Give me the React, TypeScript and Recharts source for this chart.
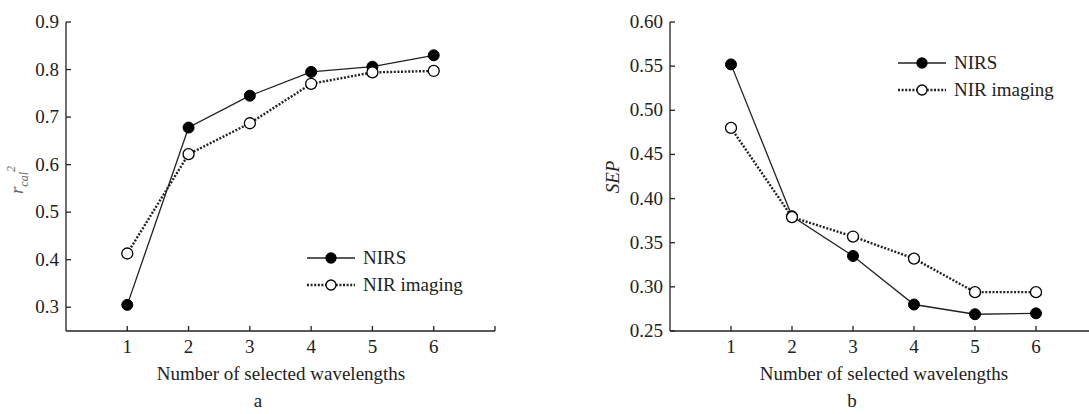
import React from "react";
import { LineChart, Line, XAxis, YAxis } from "recharts";

const wavelengths = [1, 2, 3, 4, 5, 6];
const r2Nirs = [0.305, 0.678, 0.745, 0.795, 0.806, 0.83];
const r2Imaging = [0.413, 0.622, 0.687, 0.77, 0.794, 0.797];
const sepNirs = [0.552, 0.38, 0.335, 0.28, 0.269, 0.27];
const sepImaging = [0.48, 0.379, 0.357, 0.332, 0.294, 0.294];

const xTicks = [0, 1, 2, 3, 4, 5, 6, 7];
const r2Ticks = [0.3, 0.4, 0.5, 0.6, 0.7, 0.8, 0.9];
const sepTicks = [0.25, 0.3, 0.35, 0.4, 0.45, 0.5, 0.55, 0.6];
const seriesNames = ["NIRS", "NIR imaging"];

const FONT = "'Times New Roman', 'Liberation Serif', 'DejaVu Serif', serif";
const INK = "#222";
const FS = 19;
const GAP = 6;
const TICK = 5;

const build = (a: number[], b: number[]) =>
  wavelengths.map((w, i) => ({ n: w, nirs: a[i], img: b[i] }));

const r2Data = build(r2Nirs, r2Imaging);
const sepData = build(sepNirs, sepImaging);

const YTick = (digits: number) => (props: any) => {
  const { x, y, payload } = props;
  const ax = x + GAP;
  return (
    <g>
      <line x1={ax} x2={ax + TICK} y1={y} y2={y} stroke={INK} strokeWidth={1.3} />
      <text x={x - 1} y={y} dy={6} textAnchor="end" fill={INK} fontSize={FS} style={{ fontFamily: FONT }}>
        {payload.value.toFixed(digits)}
      </text>
    </g>
  );
};

const XTick = (props: any) => {
  const { x, y, payload } = props;
  const ay = y - GAP;
  const v = payload.value;
  return (
    <g>
      {v > 0 && <line x1={x} x2={x} y1={ay} y2={ay - TICK} stroke={INK} strokeWidth={1.3} />}
      {v >= 1 && v <= 6 && (
        <text x={x} y={y} dy={16} textAnchor="middle" fill={INK} fontSize={FS} style={{ fontFamily: FONT }}>
          {v}
        </text>
      )}
    </g>
  );
};

const Swatch = ({ dotted }: { dotted: boolean }) => (
  <svg width={50} height={14} style={{ display: "block" }}>
    <line
      x1={1}
      x2={49}
      y1={7}
      y2={7}
      stroke={INK}
      strokeWidth={dotted ? 2.4 : 1.3}
      strokeDasharray={dotted ? "2 1.6" : undefined}
    />
    <circle cx={25} cy={7} r={5} fill={dotted ? "#fff" : "#000"} stroke="#000" strokeWidth={1.3} />
  </svg>
);

const LegendBox = ({ left, top }: { left: number; top: number }) => (
  <div
    style={{
      position: "absolute",
      left,
      top,
      fontSize: FS,
      color: INK,
      lineHeight: "27px",
    }}
  >
    {seriesNames.map((name, i) => (
      <div key={name} style={{ display: "flex", alignItems: "center", gap: 7 }}>
        <Swatch dotted={i === 1} /> {name}
      </div>
    ))}
  </div>
);

const Panel = ({ data, domain, ticks, digits, yWidth, width, right }: any) => (
  <LineChart
    width={width}
    height={414}
    data={data}
    margin={{ top: 22, right, left: 0, bottom: 53 }}
  >
    <XAxis
      dataKey="n"
      type="number"
      domain={[0, 7]}
      ticks={xTicks}
      interval={0}
      height={30}
      tickSize={0}
      tickMargin={GAP}
      tick={XTick}
      axisLine={{ stroke: INK, strokeWidth: 1.3 }}
    />
    <YAxis
      type="number"
      domain={domain}
      ticks={ticks}
      interval={0}
      width={yWidth}
      tickSize={0}
      tickMargin={GAP}
      tick={YTick(digits)}
      axisLine={{ stroke: INK, strokeWidth: 1.3 }}
    />
    <Line
      dataKey="nirs"
      name={seriesNames[0]}
      stroke={INK}
      strokeWidth={1.3}
      dot={{ r: 5.5, fill: "#000", stroke: "#000", strokeWidth: 1 }}
      isAnimationActive={false}
    />
    <Line
      dataKey="img"
      name={seriesNames[1]}
      stroke={INK}
      strokeWidth={2.4}
      strokeDasharray="2 1.6"
      dot={{ r: 5.5, fill: "#fff", stroke: "#000", strokeWidth: 1.3, strokeDasharray: "" }}
      isAnimationActive={false}
    />
  </LineChart>
);

const centered = (left: number, top: number): React.CSSProperties => ({
  position: "absolute",
  left,
  top,
  transform: "translateX(-50%)",
  fontSize: FS,
  color: INK,
  whiteSpace: "nowrap",
});

export default function App() {
  return (
    <div
      style={{
        position: "absolute",
        left: 0,
        top: 0,
        width: 1089,
        height: 414,
        overflow: "hidden",
        background: "#fff",
        fontFamily: FONT,
      }}
    >
      <div style={{ position: "absolute", left: 0, top: 0 }}>
        <Panel data={r2Data} domain={[0.25, 0.9]} ticks={r2Ticks} digits={1} yWidth={66} width={540} right={45} />
      </div>
      <div style={{ position: "absolute", left: 600, top: 0 }}>
        <Panel data={sepData} domain={[0.25, 0.6]} ticks={sepTicks} digits={2} yWidth={70} width={510} right={13} />
      </div>
      <LegendBox left={306} top={244} />
      <LegendBox left={897} top={49} />
      <div
        style={{
          position: "absolute",
          left: 18,
          top: 180,
          transform: "translate(-50%, -50%) rotate(-90deg)",
          fontSize: FS,
          color: "#666",
          fontStyle: "italic",
          whiteSpace: "nowrap",
        }}
      >
        r<sub style={{ fontSize: 12 }}>cal</sub>
        <sup style={{ fontSize: 12 }}>2</sup>
      </div>
      <div
        style={{
          position: "absolute",
          left: 613,
          top: 177,
          transform: "translate(-50%, -50%) rotate(-90deg)",
          fontSize: FS,
          color: INK,
          fontStyle: "italic",
          whiteSpace: "nowrap",
        }}
      >
        SEP
      </div>
      <div style={centered(281, 363)}>Number of selected wavelengths</div>
      <div style={centered(884, 363)}>Number of selected wavelengths</div>
      <div style={centered(258, 390)}>a</div>
      <div style={centered(852, 390)}>b</div>
    </div>
  );
}
